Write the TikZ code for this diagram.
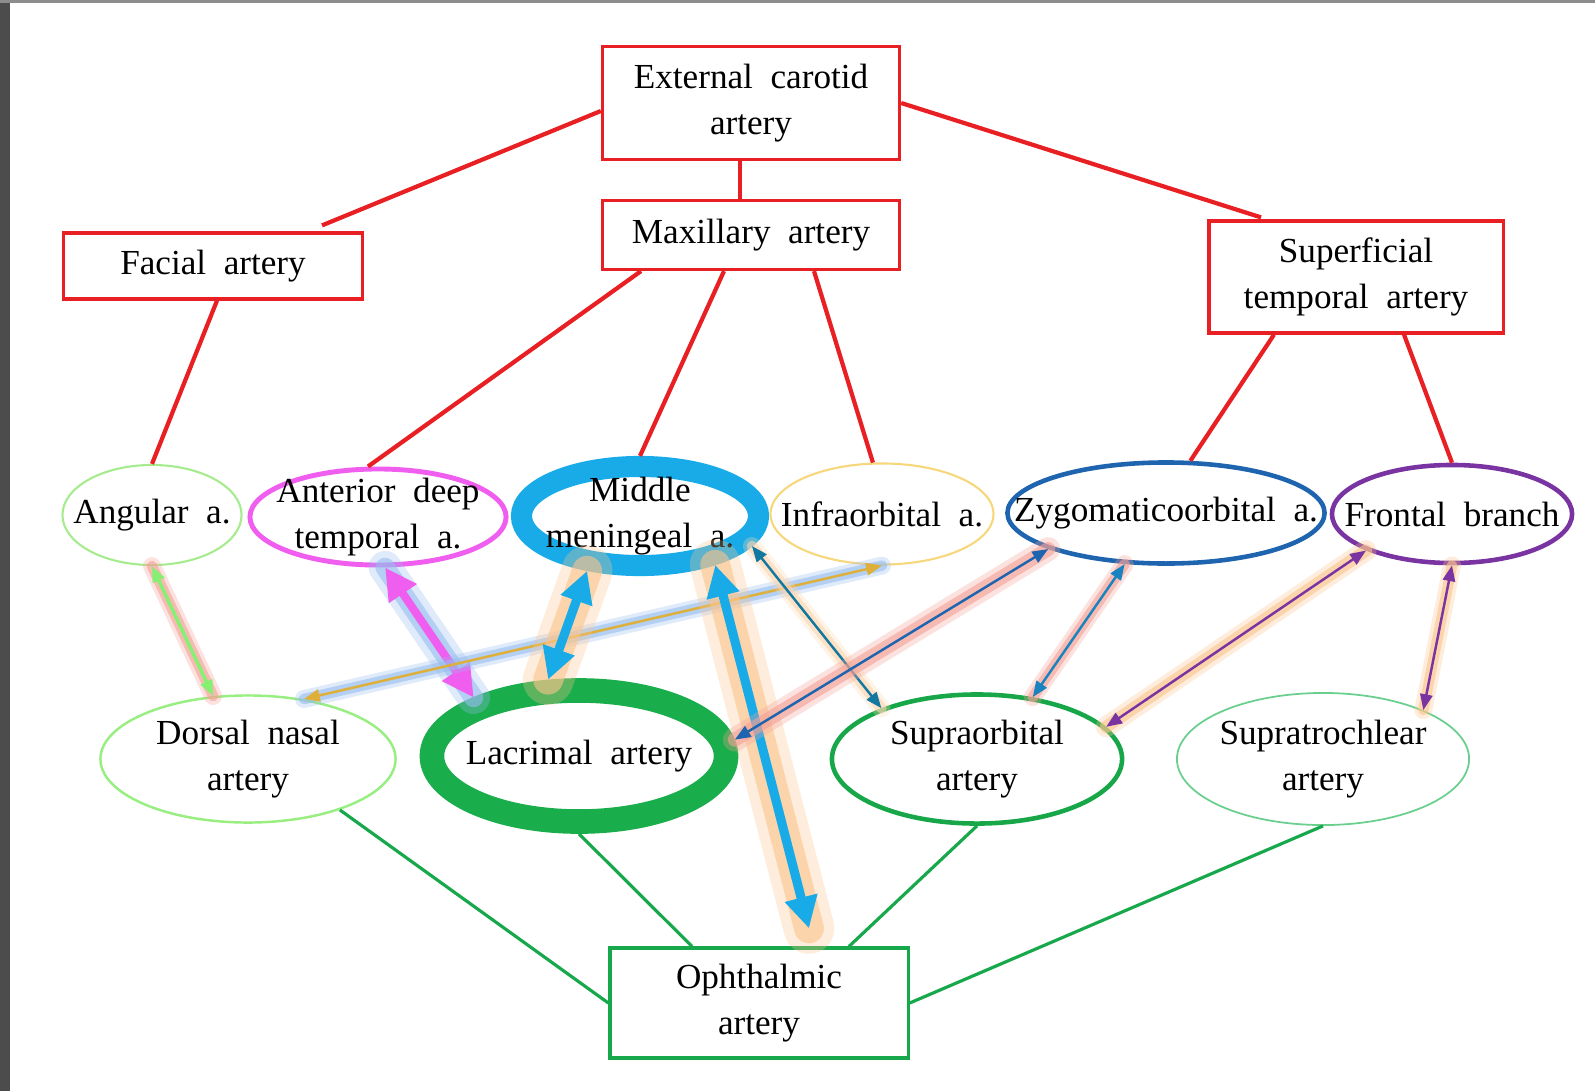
\documentclass[tikz,border=0pt]{standalone}
\usepackage{fontspec}
\setmainfont{Liberation Serif}[WordSpace=2.0]
\usetikzlibrary{arrows.meta,positioning,calc,shapes.geometric}

\definecolor{boxred}{RGB}{232,32,36}
\definecolor{boxgreen}{RGB}{24,168,76}
\definecolor{angcol}{RGB}{166,236,143}
\definecolor{adtcol}{RGB}{240,94,240}
\definecolor{midcol}{RGB}{25,171,232}
\definecolor{infcol}{RGB}{247,215,124}
\definecolor{zygcol}{RGB}{30,100,174}
\definecolor{frocol}{RGB}{122,52,162}
\definecolor{dorcol}{RGB}{152,238,128}
\definecolor{laccol}{RGB}{26,173,75}
\definecolor{spocol}{RGB}{24,167,72}
\definecolor{sptcol}{RGB}{106,207,142}
\definecolor{glowpink}{RGB}{244,160,150}
\definecolor{glowblue}{RGB}{150,188,238}
\definecolor{gloworange}{RGB}{251,196,140}
\definecolor{goldcol}{RGB}{222,176,58}

\begin{document}
\begin{tikzpicture}[
    x=0.01cm, y=-0.01cm,
    font=\fontsize{10}{13.3}\selectfont,
    redbox/.style={draw=boxred, line width=0.9pt, inner sep=0pt, minimum width=2.97cm, align=center},
    greenbox/.style={redbox, draw=boxgreen},
    oval/.style={ellipse, draw, inner sep=0pt},
    ovaltext/.style={align=center, inner sep=0pt},
    redline/.style={draw=boxred, line width=1.2pt},
    greenline/.style={draw=boxgreen, line width=0.9pt},
    glow/.style 2 args={draw=#1, line width=#2, line cap=round, opacity=0.6,
      preaction={draw=#1, line width=1.7*#2, opacity=0.3, line cap=round}},
    thinarr/.style={line width=0.7pt, {Triangle[length=4.5pt,width=3.5pt]}-{Triangle[length=4.5pt,width=3.5pt]}},
    bigarr/.style={line width=2.6pt, {Triangle[length=9pt,width=9pt]}-{Triangle[length=9pt,width=9pt]}}
  ]
  \useasboundingbox (0,0) rectangle (1595,1091);
  \fill[black!70] (0,0) rectangle (10,1091);
  \fill[black!45] (0,0) rectangle (1595,3);

  % arteries of the neck and face
  \node[redbox, minimum height=1.13cm] (ext) at (751,103) {External carotid\\artery};
  \node[redbox, minimum height=0.69cm] (max) at (751,235) {Maxillary artery};
  \node[redbox, minimum width=2.99cm, minimum height=0.66cm] (fac) at (213,266) {Facial artery};
  \node[redbox, minimum width=2.94cm, minimum height=1.12cm] (sup) at (1356,277) {Superficial\\temporal artery};
  \node[greenbox, minimum width=2.98cm, minimum height=1.10cm] (oph) at (759,1003) {Ophthalmic\\artery};

  % upper row of branches
  \node[oval, draw=angcol, line width=0.6pt, minimum width=1.79cm, minimum height=1.00cm,
    label={[ovaltext]center:Angular a.}] (ang) at (152,515) {};
  \node[oval, draw=adtcol, line width=1.4pt, minimum width=2.56cm, minimum height=0.96cm,
    label={[ovaltext]center:Anterior deep\\temporal a.}] (adt) at (378,517) {};
  \node[oval, draw=midcol, line width=6pt, minimum width=2.37cm, minimum height=0.99cm,
    label={[ovaltext]center:Middle\\meningeal a.}] (mid) at (640,516) {};
  \node[oval, draw=infcol, line width=0.6pt, minimum width=2.23cm, minimum height=1.01cm,
    label={[ovaltext]center:Infraorbital a.}] (inf) at (882,514) {};
  \node[oval, draw=zygcol, line width=1.3pt, minimum width=3.17cm, minimum height=1.01cm,
    label={[ovaltext]center:Zygomaticoorbital a.}] (zyg) at (1166,513) {};
  \node[oval, draw=frocol, line width=1.3pt, minimum width=2.40cm, minimum height=0.98cm,
    label={[ovaltext]center:Frontal branch}] (fro) at (1452,514) {};

  % lower row of branches
  \node[oval, draw=dorcol, line width=0.7pt, minimum width=2.95cm, minimum height=1.27cm,
    label={[ovaltext]center:Dorsal nasal\\artery}] (dor) at (248,759) {};
  \node[oval, draw=laccol, line width=7pt, minimum width=2.94cm, minimum height=1.31cm,
    label={[ovaltext]center:Lacrimal artery}] (lac) at (579,756) {};
  \node[oval, draw=spocol, line width=1.3pt, minimum width=2.90cm, minimum height=1.29cm,
    label={[ovaltext]center:Supraorbital\\artery}] (spo) at (977,759) {};
  \node[oval, draw=sptcol, line width=0.5pt, minimum width=2.92cm, minimum height=1.32cm,
    label={[ovaltext]center:Supratrochlear\\artery}] (spt) at (1323,759) {};

  % red tree
  \draw[redline] ($(ext.west)+(0,8)$) -- ($(fac.north)+(109,-6)$);
  \draw[redline] (ext.east) -- ($(sup.north)+(-95,-2)$);
  \draw[redline] ($(ext.south)+(-11,0)$) -- ($(max.north)+(-11,0)$);
  \draw[redline] ($(fac.south)+(4,0)$) -- (ang.north);
  \draw[redline] ($(max.south)+(-110,0)$) -- ($(adt.north)+(-10,0)$);
  \draw[redline] ($(max.south)+(-27,0)$) -- (mid.north);
  \draw[redline] ($(max.south)+(63,0)$) -- (inf.100);
  \draw[redline] ($(sup.south)+(-82,0)$) -- (zyg.65);
  \draw[redline] ($(sup.south)+(48,0)$) -- (fro.north);

  % green tree
  \draw[greenline] (dor.-29) -- (oph.west);
  \draw[greenline] (lac.south) -- ($(oph.north)+(-67,0)$);
  \draw[greenline] (spo.south) -- ($(oph.north)+(90,0)$);
  \draw[greenline] (spt.south) -- (oph.east);

  % anastomoses
  \coordinate (ophtop) at ($(oph.north)+(50,-18)$);
  \draw[glow={glowpink}{3pt}] (ang.south) -- (dor.119);
  \draw[angcol!80!green, thinarr, line width=1pt] (ang.south) -- (dor.119);
  \draw[glow={glowblue}{5.5pt}] (adt.-82) -- (lac.151);
  \draw[adtcol, bigarr, line width=2.3pt] (adt.-82) -- (lac.151);
  \draw[glow={glowblue}{3pt}] (dor.47) -- (inf.south);
  \draw[goldcol, thinarr] (dor.47) -- (inf.south);
  \draw[glow={gloworange}{8.5pt}] (mid.-134) -- (lac.112);
  \draw[midcol, bigarr] (mid.-134) -- (lac.112);
  \draw[glow={gloworange}{8.5pt}] (mid.-33) -- (ophtop);
  \draw[midcol, bigarr] (mid.-33) -- (ophtop);
  \draw[glow={gloworange!70!white}{3pt}] (mid.-15) -- (spo.152);
  \draw[midcol!70!black, thinarr] (mid.-15) -- (spo.152);
  \draw[glow={glowpink}{4pt}] (zyg.-163) -- (lac.6);
  \draw[zygcol, thinarr] (zyg.-163) -- (lac.6);
  \draw[glow={glowpink}{3pt}] (zyg.-129) -- (spo.48);
  \draw[zygcol!80!cyan, thinarr] (zyg.-129) -- (spo.48);
  \draw[glow={gloworange}{3.5pt}] (fro.-157) -- (spo.14);
  \draw[frocol, thinarr] (fro.-157) -- (spo.14);
  \draw[glow={gloworange}{3pt}] (fro.south) -- (spt.26);
  \draw[frocol, thinarr] (fro.south) -- (spt.26);
\end{tikzpicture}
\end{document}
